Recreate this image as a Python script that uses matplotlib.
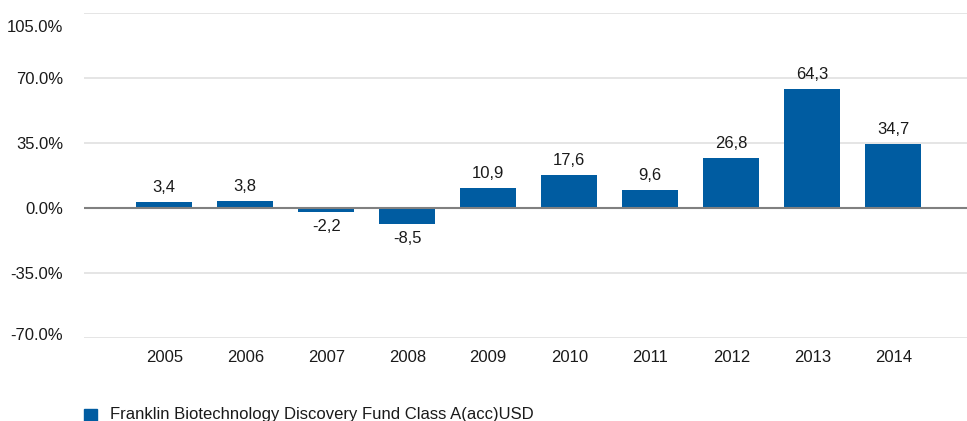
import matplotlib.pyplot as plt
import matplotlib.transforms as mtransforms
from matplotlib import font_manager
import numpy as np

years = ['2005', '2006', '2007', '2008', '2009', '2010', '2011', '2012', '2013', '2014']
returns = [3.4, 3.8, -2.2, -8.5, 10.9, 17.6, 9.6, 26.8, 64.3, 34.7]
yticks = [-70, -35, 0, 35, 70, 105]
series_name = 'Franklin Biotechnology Discovery Fund Class A(acc)USD'

names = {f.name for f in font_manager.fontManager.ttflist}
narrow = 'Liberation Sans Narrow' in names
print('narrow available:', narrow)
plt.rcParams['font.family'] = ['Liberation Sans Narrow' if narrow else 'Liberation Sans', 'DejaVu Sans']
fs = 13 if narrow else 12

fig = plt.figure(figsize=(9.67, 4.21), dpi=100, facecolor='white')
ax = fig.add_axes([84 / 967, 1 - 338 / 421, (967 - 84) / 967, (338 - 13) / 421])

x = np.arange(len(years))
bar_color = '#005ca1'
ax.bar(x, returns, width=0.69, color=bar_color, zorder=3)

for xi, v in zip(x, returns):
    label = f'{v:.1f}'.replace('.', ',')
    if v >= 0:
        ax.annotate(label, (xi, v), xytext=(0, 5), textcoords='offset points',
                    ha='center', va='bottom', fontsize=fs, color='#1a1a1a')
    else:
        ax.annotate(label, (xi, v), xytext=(0, -5), textcoords='offset points',
                    ha='center', va='top', fontsize=fs, color='#1a1a1a')

ax.set_ylim(-70, 105)
ax.set_xlim(-0.99, 9.91)
ax.set_yticks(yticks)
ax.set_yticklabels([f'{t:.1f}%' for t in yticks])
ax.set_xticks(x)
ax.set_xticklabels(years)
ax.tick_params(axis='both', length=0, labelsize=fs, labelcolor='#1a1a1a')
ax.tick_params(axis='y', pad=15)
ax.tick_params(axis='x', pad=9)

# top label sits lower than its gridline
lbls = ax.get_yticklabels()
shift = mtransforms.ScaledTranslation(0, -13 / 100, fig.dpi_scale_trans)
lbls[-1].set_transform(lbls[-1].get_transform() + shift)
shift2 = mtransforms.ScaledTranslation(0, 4 / 100, fig.dpi_scale_trans)
lbls[0].set_transform(lbls[0].get_transform() + shift2)

ax.grid(axis='y', color='#e0e0e0', linewidth=1.2, zorder=0)
ax.axhline(0, color='#808080', linewidth=1.5, zorder=4)
for s in ax.spines.values():
    s.set_visible(False)

# legend
fig.patches.append(plt.Rectangle((84 / 967, 1 - 421 / 421), 13 / 967, 12 / 421,
                                 transform=fig.transFigure, color=bar_color))
fig.text(110 / 967, 1 - 414 / 421, series_name, fontsize=fs, color='#1a1a1a',
         va='center', ha='left')

fig.savefig('out.png', dpi=100, facecolor='white')
